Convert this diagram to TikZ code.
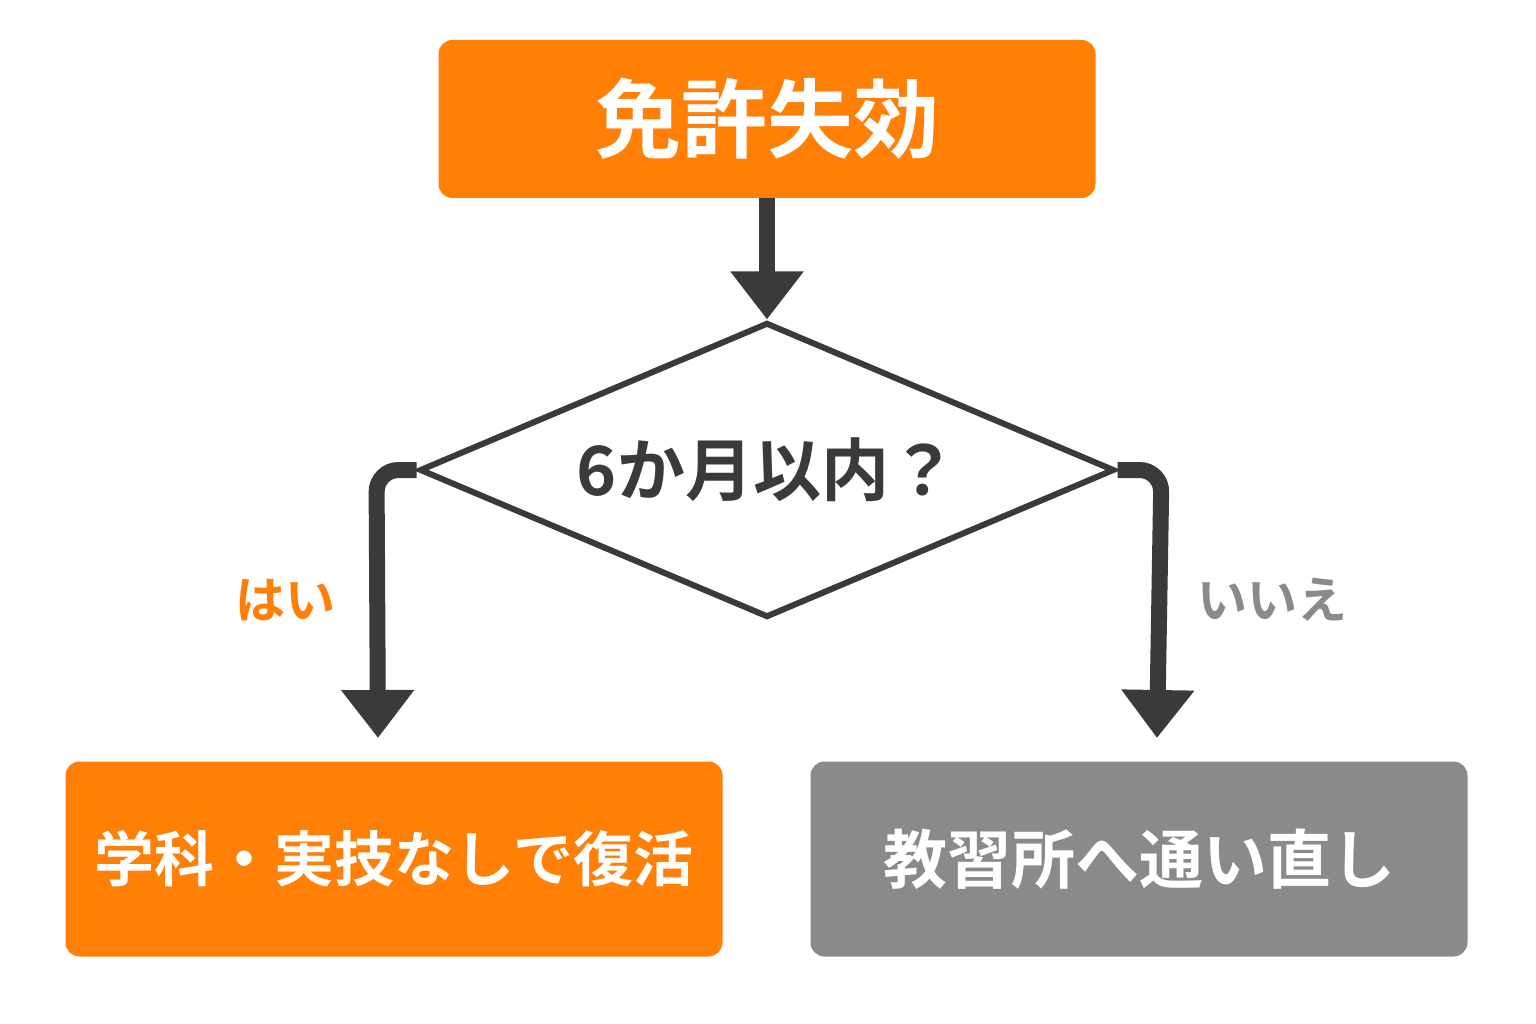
\documentclass[tikz,border=0pt]{standalone}
\usepackage{fontspec}
\newfontfamily\cjk{Noto Sans CJK JP}[BoldFont={Noto Sans CJK JP Bold}]
\usetikzlibrary{arrows.meta,shapes.geometric,positioning}
\definecolor{orangebox}{HTML}{FF7F07}
\definecolor{graybox}{HTML}{8A8A8A}
\definecolor{darkline}{HTML}{3A3A3A}
\tikzset{
  box/.style={rounded corners=14pt,minimum width=657pt,minimum height=195pt,text=white,font=\cjk\bfseries\fontsize{60}{70}\selectfont},
  flow/.style={draw=darkline,line width=16pt,rounded corners=22pt,-{Triangle[length=48pt,width=70pt]}},
  answer/.style={font=\cjk\bfseries\fontsize{50}{60}\selectfont}
}
\begin{document}
\begin{tikzpicture}[x=1pt,y=-1pt]
  \useasboundingbox[fill=white] (0,0) rectangle (1536,1024);
  \node[box,fill=orangebox,minimum height=158pt,font=\cjk\bfseries\fontsize{86}{96}\selectfont] (lapse) at (767,119) {免許失効};
  \node[diamond,draw=darkline,line width=6pt,fill=white,aspect=2.356,minimum width=695pt,minimum height=295pt,inner sep=0pt,
        text=darkline,font=\cjk\bfseries\fontsize{68}{78}\selectfont] (check) at (767,470) {6か月以内？};
  \node[box,fill=orangebox] (revive) at (394,859) {学科・実技なしで復活};
  \node[box,fill=graybox,font=\cjk\bfseries\fontsize{64}{74}\selectfont] (retake) at (1139,859) {教習所へ通い直し};
  \node[answer,text=orangebox] (yes) at (285,600) {はい};
  \node[answer,text=graybox] (no) at (1272,600) {いいえ};
  \draw[flow] (lapse.south) -- (check.north);
  \draw[flow] (check.west) -- ++(-40,0) -- (378,738);
  \draw[flow] (check.east) -- ++(44,0) -- (1157,738);
\end{tikzpicture}
\end{document}
